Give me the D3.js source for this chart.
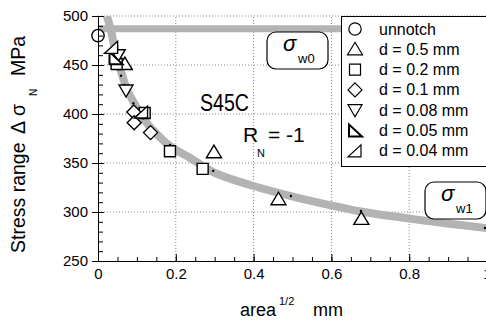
<!DOCTYPE html>
<html>
<head>
<meta charset="utf-8">
<script src="https://cdn.jsdelivr.net/npm/d3@7"></script>
<style>
  body { margin: 0; background: #fff; }
  svg { display: block; font-family: 'Liberation Sans', Arial, sans-serif; }
  text { fill: #000; }
</style>
</head>
<body>
<script>
'use strict'

// data (x = sqrt(area) in mm, y = stress range in MPa)
var xTicks = [0, 0.2, 0.4, 0.6, 0.8, 1]
var yTicks = [250, 300, 350, 400, 450, 500]
var xTickLabels = ['0', '0.2', '0.4', '0.6', '0.8', '1']

var seriesNames = ['unnotch', 'd = 0.5 mm', 'd = 0.2 mm', 'd = 0.1 mm', 'd = 0.08 mm', 'd = 0.05 mm', 'd = 0.04 mm']
var unnotch = [[0, 480]]
var d05 = [[0.069, 451], [0.298, 361], [0.464, 313], [0.677, 293]]
var d02 = [[0.048, 451], [0.12, 401], [0.185, 362], [0.269, 344]]
var d01 = [[0.092, 402], [0.093, 391], [0.135, 381]]
var d008 = [[0.052, 460], [0.072, 424]]
var d005 = [[0.045, 457]]
var d004 = [[0.035, 468], [0.112, 402]]

// thick grey prediction curve and the horizontal sigma_w0 level
var curveX = [0.023, 0.033, 0.044, 0.054, 0.063, 0.075, 0.093, 0.116, 0.141, 0.185, 0.237, 0.296, 0.391, 0.496, 0.596, 0.676, 0.828, 1.0]
var curveY = [500, 485.7, 465.3, 450, 438.8, 424.5, 411.2, 395.9, 383.7, 367.3, 355.1, 340.8, 327.6, 316.3, 307.1, 300.5, 291.8, 283.5]
var sigmaW0 = 487

// small black dots sitting on the curve
var fitX = [0.048, 0.059, 0.068, 0.078, 0.091, 0.116, 0.185, 0.196, 0.271, 0.296, 0.496, 0.676, 0.995]
var fitY = [453.4, 439.1, 429.6, 423, 411, 395.6, 368.4, 365, 348, 342, 316.3, 301, 283.7]

var W = 486, H = 322
var svg = d3.select('body').append('svg')
  .attr('width', W)
  .attr('height', H)

var x = d3.scaleLinear().domain([0, 1]).range([98, 487])
var y = d3.scaleLinear().domain([250, 500]).range([261, 16])

var plot = svg.append('g')

svg.append('defs').append('clipPath').attr('id', 'clip')
  .append('rect')
  .attr('x', x(0)).attr('y', y(500))
  .attr('width', x(1) - x(0)).attr('height', y(250) - y(500))

// dotted grid
plot.selectAll('.gx').data(xTicks.slice(1))
  .enter().append('line')
  .attr('x1', function (d) { return x(d) }).attr('x2', function (d) { return x(d) })
  .attr('y1', y(250)).attr('y2', y(500))
  .attr('stroke', '#8a8a8a').attr('stroke-dasharray', '1,2')
plot.selectAll('.gy').data(yTicks.slice(1))
  .enter().append('line')
  .attr('x1', x(0)).attr('x2', x(1))
  .attr('y1', function (d) { return y(d) }).attr('y2', function (d) { return y(d) })
  .attr('stroke', '#8a8a8a').attr('stroke-dasharray', '1,2')

// grey curves
var curve = plot.append('g').attr('clip-path', 'url(#clip)')
curve.append('line')
  .attr('x1', x(0)).attr('x2', x(1))
  .attr('y1', y(sigmaW0)).attr('y2', y(sigmaW0))
  .attr('stroke', '#b3b3b3').attr('stroke-width', 7)
var line = d3.line()
  .x(function (d) { return x(d[0]) })
  .y(function (d) { return y(d[1]) })
  .curve(d3.curveCatmullRom)
curve.append('path')
  .datum(d3.zip(curveX, curveY))
  .attr('d', line)
  .attr('fill', 'none')
  .attr('stroke', '#b3b3b3').attr('stroke-width', 8)

plot.selectAll('.fit').data(d3.zip(fitX, fitY))
  .enter().append('circle')
  .attr('cx', function (d) { return x(d[0]) })
  .attr('cy', function (d) { return y(d[1]) })
  .attr('r', 1.2)
  .attr('fill', '#000')

// axes
var ax = svg.append('g').attr('transform', 'translate(0,' + y(250) + ')')
ax.call(d3.axisBottom(x).tickValues(d3.range(0, 1.001, 0.05)).tickSize(-4).tickFormat(''))
ax.append('g').call(d3.axisBottom(x).tickValues(xTicks).tickSize(-7).tickFormat(''))
  .select('.domain').remove()
ax.append('g').call(d3.axisBottom(x).tickValues(xTicks).tickSize(0).tickPadding(7)
  .tickFormat(function (d, i) { return xTickLabels[i] }))
  .select('.domain').remove()

var ay = svg.append('g').attr('transform', 'translate(' + x(0) + ',0)')
ay.call(d3.axisLeft(y).tickValues(d3.range(250, 501, 10)).tickSize(-5).tickFormat(''))
ay.append('g').call(d3.axisLeft(y).tickValues(yTicks).tickSize(6).tickPadding(4))
  .select('.domain').remove()
ay.append('g').call(d3.axisLeft(y).tickValues(yTicks).tickSize(-6).tickFormat(''))
  .select('.domain').remove()

svg.selectAll('.tick text').attr('font-size', 15).attr('fill', '#000')
  .attr('font-family', "'Liberation Sans', Arial, sans-serif")
svg.selectAll('.tick line').attr('stroke', '#000')

// marker shapes
function shape (k) {
  switch (k) {
    case 1: return 'M0,-7L7.5,5.5L-7.5,5.5Z'
    case 2: return 'M-5.5,-5.5H5.5V5.5H-5.5Z'
    case 3: return 'M0,-7L7,0L0,7L-7,0Z'
    case 4: return 'M-7,-5.5L7,-5.5L0,6.5Z'
    case 5: return 'M-6,-6L-6,6L7,6Z'
    case 6: return 'M6,-6L6,6L-7,6Z'
  }
  return d3.symbol(d3.symbolCircle, 120)()
}

var allSeries = [unnotch, d05, d02, d01, d008, d005, d004]
allSeries.forEach(function (pts, k) {
  plot.selectAll('.m' + k).data(pts)
    .enter().append('path')
    .attr('d', shape(k))
    .attr('transform', function (d) { return 'translate(' + x(d[0]) + ',' + y(d[1]) + ')' })
    .attr('fill', '#fff')
    .attr('stroke', '#000')
    .attr('stroke-width', k === 5 ? 2 : 1.4)
})

// annotations
svg.append('text').attr('x', 200).attr('y', 111).attr('font-size', 24)
  .attr('textLength', 49).attr('lengthAdjust', 'spacingAndGlyphs').text('S45C')
svg.append('text').attr('x', 243).attr('y', 142).attr('font-size', 21).text('R')
svg.append('text').attr('x', 257).attr('y', 157).attr('font-size', 11).text('N')
svg.append('text').attr('x', 268).attr('y', 142).attr('font-size', 21).text('= -1')

function sigmaBox (bx, by, sub) {
  var g = svg.append('g').attr('transform', 'translate(' + bx + ',' + by + ')')
  g.append('rect').attr('width', 61).attr('height', 37).attr('rx', 9)
    .attr('fill', '#fff').attr('stroke', '#000').attr('stroke-width', 1.2)
  g.append('text').attr('x', 16).attr('y', 19).attr('font-size', 22).attr('font-style', 'italic').text('σ')
  g.append('text').attr('x', 31).attr('y', 31).attr('font-size', 13).text(sub)
}

// legend
var lg = svg.append('g')
lg.append('rect').attr('x', 341.5).attr('y', 16.5).attr('width', 160).attr('height', 150)
  .attr('fill', '#fff').attr('stroke', '#000')
seriesNames.forEach(function (name, k) {
  var cy = 29 + k * 20.3
  lg.append('path').attr('d', shape(k))
    .attr('transform', 'translate(355,' + cy + ')')
    .attr('fill', '#fff').attr('stroke', '#000')
    .attr('stroke-width', k === 5 ? 2 : 1.2)
  lg.append('text').attr('x', 379).attr('y', cy + 5.5).attr('font-size', 16).text(name)
})

sigmaBox(267, 32, 'w0')
sigmaBox(425, 182, 'w1')

// axis titles
var yt = svg.append('g').attr('transform', 'translate(25,0) rotate(-90)').attr('font-size', 19.5)
yt.append('text').attr('x', -253).attr('y', 0).text('Stress range')
yt.append('text').attr('x', -134).attr('y', 0).text('Δ')
yt.append('text').attr('x', -116).attr('y', 0).text('σ')
yt.append('text').attr('x', -96).attr('y', 12).attr('font-size', 10).text('N')
yt.append('text').attr('x', -76).attr('y', 0).text('MPa')

svg.append('text').attr('x', 240).attr('y', 316).attr('font-size', 18).text('area')
svg.append('text').attr('x', 279).attr('y', 305).attr('font-size', 11).text('1/2')
svg.append('text').attr('x', 313).attr('y', 316).attr('font-size', 18).text('mm')
</script>
</body>
</html>
